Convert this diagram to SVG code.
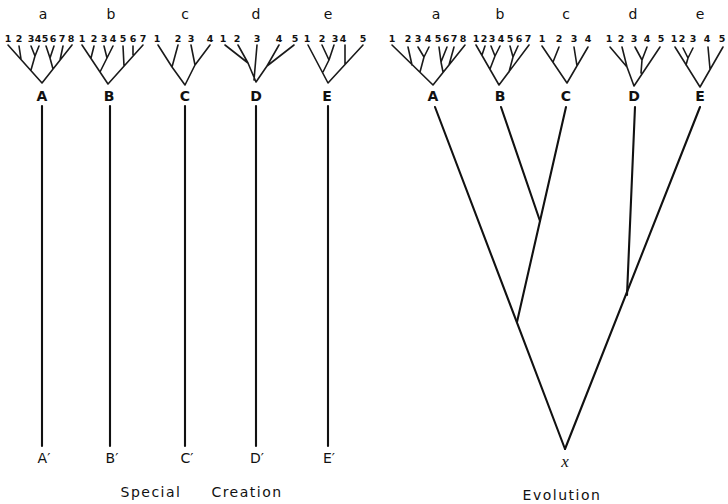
<svg xmlns="http://www.w3.org/2000/svg" width="728" height="504" viewBox="0 0 728 504">
<style>
.t{fill:none;stroke:#1a1a1a;stroke-width:1.6;stroke-linecap:round;stroke-linejoin:round}
.m{fill:none;stroke:#111;stroke-width:2.1;stroke-linecap:round}
.sp{font-family:"DejaVu Sans","Liberation Sans",sans-serif;fill:#111;text-anchor:middle}
.lc{font-size:14px}
.n{font-size:9.5px;font-weight:bold}
.cap{font-size:14px;font-weight:bold}
.pr{font-size:14px}
.ti{font-size:14px;letter-spacing:1.5px}
</style>
<rect width="728" height="504" fill="#fff"/>
<g id="connectors">
<line class="m" x1="42" y1="106" x2="42" y2="446"/>
<line class="m" x1="110" y1="106" x2="110" y2="446"/>
<line class="m" x1="185" y1="106" x2="185" y2="446"/>
<line class="m" x1="256" y1="106" x2="256" y2="446"/>
<line class="m" x1="328" y1="106" x2="328" y2="446"/>
<line class="m" x1="435" y1="107" x2="565" y2="449"/>
<line class="m" x1="501" y1="107" x2="540" y2="221"/>
<line class="m" x1="566" y1="107" x2="540" y2="221"/>
<line class="m" x1="540" y1="221" x2="517" y2="322"/>
<line class="m" x1="635" y1="107" x2="627" y2="295"/>
<line class="m" x1="700" y1="107" x2="565" y2="449"/>
</g>
<g id="left-a">
<text class="sp lc" x="43" y="19">a</text>
<text class="sp n" x="8" y="42">1</text><text class="sp n" x="19" y="42">2</text><text class="sp n" x="31" y="42">3</text><text class="sp n" x="38" y="42">4</text><text class="sp n" x="45" y="42">5</text><text class="sp n" x="53" y="42">6</text><text class="sp n" x="62" y="42">7</text><text class="sp n" x="71" y="42">8</text>
<path class="t" d="M8 45L42 83L72 45M19 46L21 59M31 46L35 56L39 46M35 56L31 70M46 46L50 58L54 46M50 58L53 69M63 46L60 60"/>
<text class="sp cap" x="42" y="101">A</text>
</g>
<g id="left-b">
<text class="sp lc" x="111" y="19">b</text>
<text class="sp n" x="82" y="42">1</text><text class="sp n" x="94" y="42">2</text><text class="sp n" x="104" y="42">3</text><text class="sp n" x="113" y="42">4</text><text class="sp n" x="123" y="42">5</text><text class="sp n" x="133" y="42">6</text><text class="sp n" x="143" y="42">7</text>
<path class="t" d="M82 45L108 84L143 45M94 46L91 58M104 46L107 58L113 46M107 58L100 72M123 46L124 66M133 46L133 55"/>
<text class="sp cap" x="109" y="101">B</text>
</g>
<g id="left-c">
<text class="sp lc" x="185" y="19">c</text>
<text class="sp n" x="157" y="42">1</text><text class="sp n" x="178" y="42">2</text><text class="sp n" x="191" y="42">3</text><text class="sp n" x="210" y="42">4</text>
<path class="t" d="M158 45L172 67L178 45M172 67L185 85L195 65L191 45M195 65L210 45"/>
<text class="sp cap" x="185" y="101">C</text>
</g>
<g id="left-d">
<text class="sp lc" x="256" y="19">d</text>
<text class="sp n" x="223" y="42">1</text><text class="sp n" x="237" y="42">2</text><text class="sp n" x="257" y="42">3</text><text class="sp n" x="279" y="42">4</text><text class="sp n" x="295" y="42">5</text>
<path class="t" d="M225 45L248 63L238 45M248 63L256 82L267 66L279 45M267 66L294 45M257 45L254 80"/>
<text class="sp cap" x="256" y="101">D</text>
</g>
<g id="left-e">
<text class="sp lc" x="328" y="19">e</text>
<text class="sp n" x="307" y="42">1</text><text class="sp n" x="322" y="42">2</text><text class="sp n" x="335" y="42">3</text><text class="sp n" x="343" y="42">4</text><text class="sp n" x="363" y="42">5</text>
<path class="t" d="M308 45L328 83L363 45M322 45L329 60L334 45M329 60L323 72M345 45L345 64"/>
<text class="sp cap" x="327" y="101">E</text>
</g>
<g id="left-primes">
<text class="sp pr" x="44" y="463">A′</text>
<text class="sp pr" x="112" y="463">B′</text>
<text class="sp pr" x="187" y="463">C′</text>
<text class="sp pr" x="257" y="463">D′</text>
<text class="sp pr" x="329" y="463">E′</text>
</g>
<g id="right-a">
<text class="sp lc" x="436" y="19">a</text>
<text class="sp n" x="392" y="42">1</text><text class="sp n" x="408" y="42">2</text><text class="sp n" x="418" y="42">3</text><text class="sp n" x="428" y="42">4</text><text class="sp n" x="438" y="42">5</text><text class="sp n" x="446" y="42">6</text><text class="sp n" x="454" y="42">7</text><text class="sp n" x="463" y="42">8</text>
<path class="t" d="M392 45L433 85L465 45M408 47L412 65M418 47L424 57L429 47M424 57L420 72M439 47L441 62L447 47M441 62L443 72M454 47L449 65"/>
<text class="sp cap" x="433" y="101">A</text>
</g>
<g id="right-b">
<text class="sp lc" x="500" y="19">b</text>
<text class="sp n" x="476" y="42">1</text><text class="sp n" x="484" y="42">2</text><text class="sp n" x="492" y="42">3</text><text class="sp n" x="501" y="42">4</text><text class="sp n" x="510" y="42">5</text><text class="sp n" x="519" y="42">6</text><text class="sp n" x="528" y="42">7</text>
<path class="t" d="M476 45L499 85L529 45M485 46L482 55M491 46L495 56L500 46M495 56L490 69M510 46L513 57L518 46M513 57L509 72"/>
<text class="sp cap" x="500" y="101">B</text>
</g>
<g id="right-c">
<text class="sp lc" x="566" y="19">c</text>
<text class="sp n" x="542" y="42">1</text><text class="sp n" x="559" y="42">2</text><text class="sp n" x="574" y="42">3</text><text class="sp n" x="588" y="42">4</text>
<path class="t" d="M542 46L567 83L588 47M559 47L553 62M574 47L577 66"/>
<text class="sp cap" x="566" y="101">C</text>
</g>
<g id="right-d">
<text class="sp lc" x="633" y="19">d</text>
<text class="sp n" x="609" y="42">1</text><text class="sp n" x="621" y="42">2</text><text class="sp n" x="634" y="42">3</text><text class="sp n" x="647" y="42">4</text><text class="sp n" x="661" y="42">5</text>
<path class="t" d="M610 47L627 67L622 47M627 67L634 86L660 47M635 47L642 60L647 47M642 60L641 73"/>
<text class="sp cap" x="634" y="101">D</text>
</g>
<g id="right-e">
<text class="sp lc" x="700" y="19">e</text>
<text class="sp n" x="674" y="42">1</text><text class="sp n" x="682" y="42">2</text><text class="sp n" x="693" y="42">3</text><text class="sp n" x="707" y="42">4</text><text class="sp n" x="722" y="42">5</text>
<path class="t" d="M675 47L700 87L723 47M683 48L688 58L693 48M688 58L686 65M708 47L710 69"/>
<text class="sp cap" x="700" y="101">E</text>
</g>
<g id="root-x">
<text x="565" y="467" font-family="'Liberation Serif',serif" font-style="italic" font-size="17" text-anchor="middle" fill="#111">x</text>
</g>
<g id="captions">
<text class="sp ti" x="151" y="497">Special</text>
<text class="sp ti" x="247" y="497">Creation</text>
<text class="sp ti" x="562" y="500">Evolution</text>
</g>
</svg>
